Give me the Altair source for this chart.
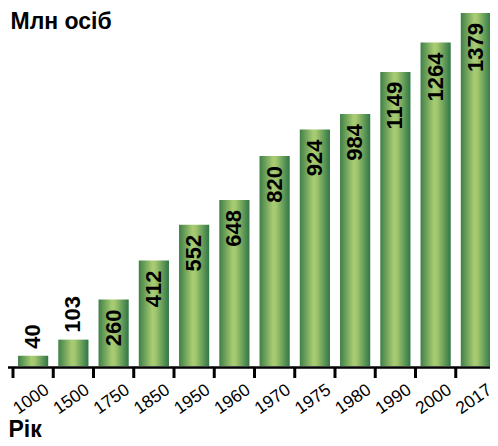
import altair as alt
import pandas as pd

years = ["1000", "1500", "1750", "1850", "1950", "1960", "1970", "1975", "1980", "1990", "2000", "2017"]
population = [40, 103, 260, 412, 552, 648, 820, 924, 984, 1149, 1264, 1379]

df = pd.DataFrame({"year": years, "pop": population})

W = 483
H = 353
FONT = "Liberation Sans"

gradient = alt.LinearGradient(
    gradient="linear", x1=0, x2=1, y1=0, y2=0,
    stops=[
        alt.GradientStop(offset=0, color="#3f8048"),
        alt.GradientStop(offset=0.45, color="#a9cc72"),
        alt.GradientStop(offset=0.55, color="#a2c76e"),
        alt.GradientStop(offset=1, color="#2f7646"),
    ],
)

x = alt.X(
    "year:N", sort=years,
    scale=alt.Scale(paddingInner=0.25, paddingOuter=0.125),
    axis=alt.Axis(
        title="Рік", labelAngle=-35, labelAlign="right", labelBaseline="alphabetic",
        labelFontSize=17.5, labelFont=FONT, labelColor="black",
        labelOffset=17, labelPadding=26, ticks=False, domain=False,
        titleFontSize=23, titleFont=FONT, titleFontWeight="bold", titleColor="black",
        titleAlign="left", titleBaseline="alphabetic", titleX=-5, titleY=70,
    ),
)
y = alt.Y(
    "pop:Q",
    scale=alt.Scale(domain=[0, 1379], nice=False),
    axis=alt.Axis(
        title="Млн осіб", titleAngle=0, titleAlign="left", titleBaseline="alphabetic",
        titleX=-3, titleY=15, labels=False, ticks=False, domain=False, grid=False,
        titleFontSize=23, titleFont=FONT, titleFontWeight="bold", titleColor="black",
    ),
)

base = alt.Chart(df)

bars = base.mark_bar(color=gradient).encode(x=x, y=y)

inside = base.transform_filter("datum.pop >= 200").mark_text(
    angle=270, align="right", baseline="middle", yOffset=10,
    fontSize=22, fontWeight="bold", font=FONT, color="black",
).encode(x=x, y=y, text="pop:Q")

outside = base.transform_filter("datum.pop < 200").mark_text(
    angle=270, align="left", baseline="middle", yOffset=-7,
    fontSize=22, fontWeight="bold", font=FONT, color="black",
).encode(x=x, y=y, text="pop:Q")

ticks = base.mark_rule(color="black", strokeWidth=3, xOffset=-20.125).encode(
    x=x, y=alt.value(H + 1), y2=alt.value(H + 12)
)

domain_line = alt.Chart(pd.DataFrame({"a": [0]})).mark_rule(color="black", strokeWidth=2.5).encode(
    x=alt.value(-5), x2=alt.value(W + 1), y=alt.value(H + 1.5)
)

chart = alt.layer(bars, inside, outside, ticks, domain_line).properties(
    width=W, height=H,
    autosize=alt.AutoSizeParams(type="none"),
    padding={"left": 5, "top": 5, "right": -6, "bottom": 73},
).configure_view(stroke=None)

chart.save("out.html", embed_options={"renderer": "svg", "actions": False})
